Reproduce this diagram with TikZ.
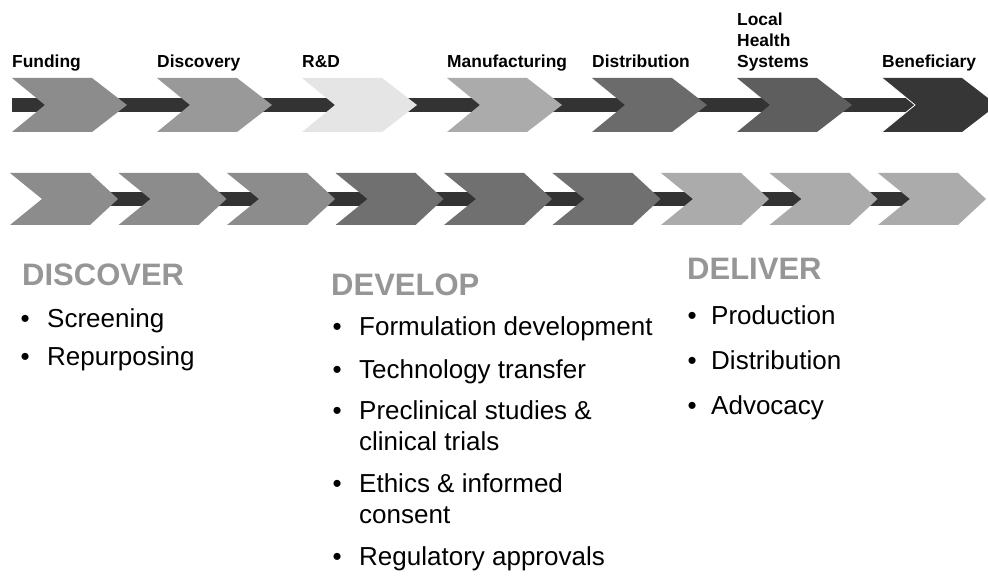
\documentclass[tikz,border=0pt]{standalone}
\usepackage{fontspec}
\setmainfont{Liberation Sans}
\usepackage{tikz}

\tikzset{
    etikett/.style={anchor=base west, inner sep=0pt, align=left,
        font=\bfseries\fontsize{17.4}{21}\selectfont},
    kopf/.style={anchor=base west, inner sep=0pt, text=black!41,
        font=\bfseries\fontsize{31}{37}\selectfont},
    punkt/.style={anchor=base west, inner sep=0pt, align=left,
        font=\fontsize{26}{31}\selectfont},
}

\begin{document}
\begin{tikzpicture}[x=1pt, y=-1pt]
    \clip (0,0) rectangle (988,577);
    \fill[white] (0,0) rectangle (988,577);

    % Balken
    \fill[black!80] (12,98) rectangle (960,112);
    \fill[black!80] (60,192) rectangle (950,206);

    % Pfeile oben
    \foreach \i/\farbe in {0/45, 1/40, 2/10, 3/33, 4/58, 5/63, 6/79}
    {
        \pgfmathsetmacro{\x}{12+145*\i}
        \fill[black!\farbe] (\x,78) -- ++(80,0) -- ++(35,27) -- ++(-35,27)
            -- ++(-80,0) -- ++(33,-27) -- cycle;
    }
    \draw[white, line width=0.8pt] (882,78) -- (915,105) -- (882,132);

    % Pfeile unten
    \foreach \i/\farbe in {0/45, 1/45, 2/45, 3/56, 4/56, 5/56, 6/33, 7/33, 8/33}
    {
        \pgfmathsetmacro{\x}{10+108.5*\i}
        \fill[black!\farbe] (\x,173) -- ++(80,0) -- ++(28,26) -- ++(-28,26)
            -- ++(-80,0) -- ++(32,-26) -- cycle;
    }

    % Beschriftung oben
    \foreach \i/\name/\txt in {0/funding/Funding, 1/discovery/Discovery, 2/rnd/R\&D,
        3/manufacturing/Manufacturing, 4/distribution/Distribution, 6/beneficiary/Beneficiary}
    {
        \node[etikett] (\name) at ({12+145*\i},68) {\txt};
    }
    \node[etikett] (lhs) at (737,68) {Local\\Health\\Systems};

    % Discover
    \node[kopf] (discover) at (22,286) {DISCOVER};
    \foreach \y/\name/\txt in {327/screening/Screening, 366/repurposing/Repurposing}
    {
        \node[punkt] (\name) at (47,\y) {\txt};
        \node[punkt, anchor=base east] (\name-b) at (30,\y) {\textbullet};
    }

    % Develop (\y = erste Zeile, \z = letzte Zeile)
    \node[kopf] (develop) at (331,296) {DEVELOP};
    \foreach \y/\z/\name/\txt in {335/335/formulation/Formulation development,
        378/378/transfer/Technology transfer, 419/450/studies/Preclinical studies \&\\clinical trials,
        492/523/ethics/Ethics \& informed\\consent, 565/565/approvals/Regulatory approvals}
    {
        \node[punkt] (\name) at (359,\z) {\txt};
        \node[punkt, anchor=base east] (\name-b) at (342,\y) {\textbullet};
    }

    % Deliver
    \node[kopf] (deliver) at (687,280) {DELIVER};
    \foreach \y/\name/\txt in {325/production/Production, 369/distrib/Distribution,
        414/advocacy/Advocacy}
    {
        \node[punkt] (\name) at (711,\y) {\txt};
        \node[punkt, anchor=base east] (\name-b) at (697,\y) {\textbullet};
    }
\end{tikzpicture}
\end{document}
